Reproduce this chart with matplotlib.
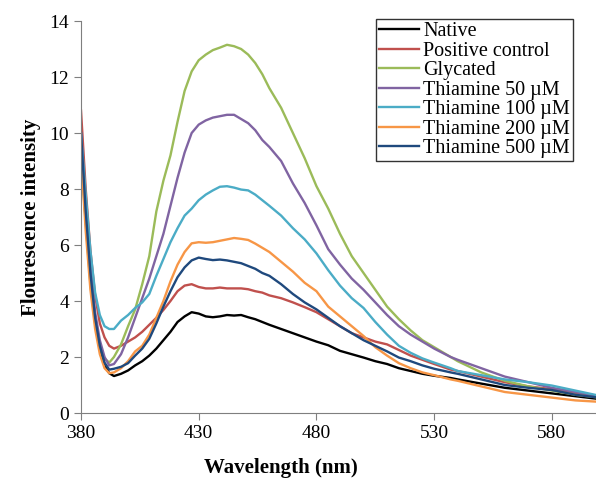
import matplotlib
matplotlib.use("Agg")
from matplotlib import pyplot as plt

# wavelength grid (nm) and readings for each sample
wavelength = [380, 382, 384, 386, 388, 390, 392, 394, 397, 400, 403, 406, 409, 412, 415, 418,
              421, 424, 427, 430, 433, 436, 439, 442, 445, 448, 451, 454, 457, 460, 465, 470,
              475, 480, 485, 490, 495, 500, 505, 510, 515, 520, 525, 530, 537, 540, 550, 560,
              570, 580, 590, 600]

native = [9.5, 6.9, 4.8, 3.3, 2.3, 1.7, 1.42, 1.32, 1.4, 1.52, 1.7, 1.85, 2.05, 2.3, 2.6, 2.9,
          3.25, 3.45, 3.6, 3.55, 3.45, 3.42, 3.45, 3.5, 3.48, 3.5, 3.42, 3.35, 3.25, 3.15, 3.0, 2.85,
          2.7, 2.55, 2.42, 2.22, 2.1, 1.98, 1.85, 1.75, 1.6, 1.5, 1.4, 1.33, 1.25, 1.2, 1.05, 0.9,
          0.8, 0.7, 0.6, 0.5]
positive = [10.8, 8.0, 5.8, 4.2, 3.2, 2.7, 2.4, 2.3, 2.4, 2.55, 2.7, 2.9, 3.15, 3.4, 3.68, 4.0,
            4.35, 4.55, 4.6, 4.5, 4.45, 4.45, 4.48, 4.45, 4.45, 4.45, 4.42, 4.35, 4.3, 4.2, 4.1, 3.95,
            3.78, 3.6, 3.35, 3.1, 2.85, 2.7, 2.55, 2.45, 2.25, 2.05, 1.9, 1.75, 1.55, 1.5, 1.3, 1.1,
            0.95, 0.85, 0.7, 0.6]
glycated = [9.2, 6.8, 4.6, 3.2, 2.4, 1.95, 1.8, 2.0, 2.45, 3.1, 3.7, 4.6, 5.6, 7.2, 8.3, 9.2,
            10.4, 11.5, 12.2, 12.6, 12.8, 12.96, 13.05, 13.15, 13.1, 13.0, 12.8, 12.5, 12.1, 11.6, 10.9, 10.0,
            9.1, 8.1, 7.3, 6.4, 5.6, 5.0, 4.4, 3.8, 3.35, 2.95, 2.6, 2.35, 2.0, 1.85, 1.45, 1.15,
            0.95, 0.8, 0.65, 0.55]
thia50 = [10.0, 7.4, 5.2, 3.6, 2.6, 2.0, 1.7, 1.75, 2.1, 2.7, 3.4, 4.1, 4.8, 5.6, 6.4, 7.4,
          8.4, 9.3, 10.0, 10.3, 10.45, 10.55, 10.6, 10.65, 10.65, 10.5, 10.35, 10.1, 9.75, 9.5, 9.0, 8.2,
          7.5, 6.7, 5.85, 5.3, 4.8, 4.4, 3.95, 3.5, 3.1, 2.8, 2.55, 2.3, 2.0, 1.9, 1.6, 1.3,
          1.1, 0.9, 0.75, 0.6]
thia100 = [10.0, 7.8, 5.8, 4.3, 3.5, 3.1, 3.0, 3.0, 3.3, 3.5, 3.75, 3.95, 4.25, 4.9, 5.5, 6.1,
           6.6, 7.05, 7.3, 7.6, 7.8, 7.95, 8.08, 8.1, 8.05, 7.98, 7.95, 7.8, 7.6, 7.4, 7.05, 6.6,
           6.2, 5.7, 5.1, 4.55, 4.1, 3.75, 3.25, 2.8, 2.4, 2.15, 1.95, 1.8, 1.6, 1.5, 1.35, 1.2,
           1.1, 0.98, 0.8, 0.62]
thia200 = [9.2, 6.5, 4.4, 3.0, 2.1, 1.6, 1.42, 1.45, 1.6, 1.85, 2.2, 2.4, 2.8, 3.4, 4.0, 4.7,
           5.3, 5.75, 6.06, 6.1, 6.08, 6.1, 6.15, 6.2, 6.25, 6.22, 6.18, 6.05, 5.9, 5.75, 5.4, 5.05,
           4.65, 4.35, 3.8, 3.45, 3.1, 2.75, 2.35, 2.05, 1.78, 1.6, 1.45, 1.35, 1.2, 1.15, 0.95, 0.75,
           0.65, 0.55, 0.45, 0.4]
thia500 = [10.0, 7.2, 5.0, 3.4, 2.4, 1.8, 1.55, 1.58, 1.65, 1.78, 2.05, 2.3, 2.65, 3.2, 3.8, 4.35,
           4.85, 5.2, 5.45, 5.55, 5.5, 5.46, 5.48, 5.45, 5.4, 5.35, 5.25, 5.15, 5.0, 4.9, 4.6, 4.25,
           3.95, 3.7, 3.4, 3.1, 2.85, 2.6, 2.4, 2.2, 1.98, 1.85, 1.7, 1.58, 1.45, 1.4, 1.2, 1.0,
           0.9, 0.82, 0.65, 0.55]

series = [
    ("Native", native, "#000000"),
    ("Positive control", positive, "#C0504D"),
    ("Glycated", glycated, "#9BBB59"),
    ("Thiamine 50 \u00b5M", thia50, "#8064A2"),
    ("Thiamine 100 \u00b5M", thia100, "#4BACC6"),
    ("Thiamine 200 \u00b5M", thia200, "#F79646"),
    ("Thiamine 500 \u00b5M", thia500, "#1F497D"),
]

plt.rcParams["font.family"] = ["Liberation Serif", "DejaVu Serif"]

fig = plt.figure(figsize=(5.96, 4.86), dpi=100)
ax = fig.add_axes([81 / 596, 73 / 486, 518 / 596, 392 / 486])

for name, vals, color in series:
    ax.plot(wavelength, vals, color=color, lw=1.7, label=name)

ax.set_xlim(380, 600)
ax.set_ylim(0, 14)
ax.set_xticks([380, 430, 480, 530, 580])
ax.set_yticks(range(0, 15, 2))
ax.tick_params(labelsize=14, direction="out", length=5, color="#7f7f7f")
for s in ["top", "right"]:
    ax.spines[s].set_visible(False)
for s in ["left", "bottom"]:
    ax.spines[s].set_color("#7f7f7f")

ax.set_xlabel("Wavelength (nm)", fontsize=15, fontweight="bold", labelpad=10)
ax.xaxis.set_label_coords(0.385, -0.115)
ax.set_ylabel("Flourescence intensity", fontsize=15, fontweight="bold", labelpad=6)

leg = fig.legend(loc="upper left", bbox_to_anchor=(376 / 596, 1 - 19 / 486), fontsize=14.5,
                 frameon=True, fancybox=False, edgecolor="black", handlelength=2.0,
                 handletextpad=0.2, labelspacing=0.02, borderpad=0.15, borderaxespad=0)
leg.get_frame().set_linewidth(1.0)

fig.savefig("out.png", dpi=100)
